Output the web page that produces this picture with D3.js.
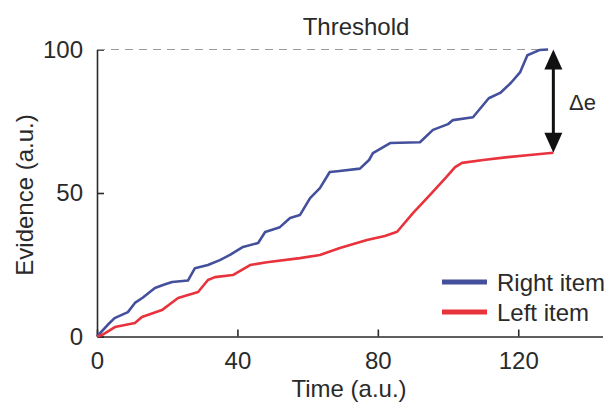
<!DOCTYPE html>
<html>
<head>
<meta charset="utf-8">
<script src="https://cdn.jsdelivr.net/npm/d3@7"></script>
<style>
  body { margin: 0; background: #fff; }
  text { font-family: "Liberation Sans", Arial, sans-serif; fill: #2a2a2a; }
</style>
</head>
<body>
<svg width="616" height="407"></svg>
<script>
// time (a.u.) / evidence (a.u.)
var rightTime = [0, 3, 5, 8.8, 10.8, 13, 16.5, 19, 21.4, 25.9, 27.9, 31.6, 35, 38, 41.6, 45.9, 47.9, 52.1, 55, 57.8,
                 60.7, 63.5, 66.3, 68.5, 74.9, 77.5, 78.6, 83.5, 92, 95.7, 100, 101.4, 107.1, 111.6, 115, 118, 120.5, 122.6, 126, 128.5];
var rightValue = [0, 4, 6.4, 8.5, 11.7, 13.5, 16.9, 18, 19, 19.5, 23.8, 24.9, 26.6, 28.5, 31.2, 32.6, 36.4, 38.1, 41.3, 42.3,
                  48.2, 51.7, 57.3, 57.6, 58.5, 61.5, 63.9, 67.4, 67.7, 72, 74, 75.4, 76.4, 83, 85, 88.5, 92, 98, 99.8, 100];
var leftTime = [0, 1.4, 5.1, 10.8, 12.8, 18.5, 21, 23.1, 28.8, 31.6, 33.6, 38.7, 43.6, 48.4, 57.8, 63.5, 69.2, 76.9,
                82, 85.5, 90, 95, 99.5, 102, 104, 110, 117, 124, 130];
var leftValue = [0, 0.5, 3.3, 4.7, 6.8, 9.2, 11.5, 13.4, 15.5, 19.7, 20.7, 21.4, 24.9, 25.9, 27.3, 28.4, 30.8, 33.6,
                 35, 36.5, 43, 49.5, 55.5, 59, 60.5, 61.5, 62.5, 63.3, 64];
var xTicks = [0, 40, 80, 120];
var yTicks = [0, 50, 100];
var threshold = 100;
var seriesNames = ["Right item", "Left item"];
var seriesColors = ["#44509c", "#e8323c"];

function main() {
  var svg = d3.select("svg");

  var x = d3.scaleLinear().domain([0, 144]).range([97, 602.5]);
  var y = d3.scaleLinear().domain([0, 100]).range([336.5, 49.5]);

  // axes, ticks point inward
  svg.append("g")
    .attr("transform", "translate(0," + y(0) + ")")
    .call(d3.axisBottom(x).tickValues(xTicks).tickSizeInner(-7).tickSizeOuter(0).tickPadding(15))
    .call(function(g) {
      g.selectAll("path, line").attr("stroke", "#2a2a2a").attr("stroke-width", 1.6);
      g.selectAll("text").attr("font-size", "24px").attr("fill", "#2a2a2a");
    });

  svg.append("g")
    .attr("transform", "translate(" + x(0) + ",0)")
    .call(d3.axisLeft(y).tickValues(yTicks).tickSizeInner(-7).tickSizeOuter(0).tickPadding(14))
    .call(function(g) {
      g.selectAll("path, line").attr("stroke", "#2a2a2a").attr("stroke-width", 1.6);
      g.selectAll("text").attr("font-size", "24px").attr("fill", "#2a2a2a");
    });

  // threshold line
  var rightEnd = rightTime[rightTime.length - 1];
  svg.append("line")
    .attr("x1", x(0)).attr("x2", x(rightEnd))
    .attr("y1", y(threshold)).attr("y2", y(threshold))
    .attr("stroke", "#9a9a9a")
    .attr("stroke-width", 1.2)
    .attr("stroke-dasharray", "8,6");

  svg.append("text")
    .attr("x", 356).attr("y", 35)
    .attr("text-anchor", "middle")
    .attr("font-size", "24px")
    .text("Threshold");

  // traces
  var line = d3.line().x(function(d) { return x(d[0]); }).y(function(d) { return y(d[1]); });
  var series = [d3.zip(rightTime, rightValue), d3.zip(leftTime, leftValue)];

  svg.selectAll(".trace")
    .data(series)
    .enter()
    .append("path")
    .attr("class", "trace")
    .attr("d", line)
    .attr("fill", "none")
    .attr("stroke", function(d, i) { return seriesColors[i]; })
    .attr("stroke-width", 2.6)
    .attr("stroke-linejoin", "round");

  // delta-e arrow
  var leftEnd = leftValue[leftValue.length - 1];
  var ax = x(130);
  var top = y(threshold), bot = y(leftEnd);
  var headL = 20, headW = 9;
  svg.append("line")
    .attr("x1", ax).attr("x2", ax)
    .attr("y1", top + headL - 2).attr("y2", bot - headL + 2)
    .attr("stroke", "#111").attr("stroke-width", 3);
  svg.append("path")
    .attr("d", "M" + ax + "," + top + "L" + (ax - headW) + "," + (top + headL) + "L" + (ax + headW) + "," + (top + headL) + "Z")
    .attr("fill", "#111");
  svg.append("path")
    .attr("d", "M" + ax + "," + bot + "L" + (ax - headW) + "," + (bot - headL) + "L" + (ax + headW) + "," + (bot - headL) + "Z")
    .attr("fill", "#111");

  svg.append("text")
    .attr("x", 569).attr("y", 110)
    .attr("font-size", "22px")
    .text("\u0394e");

  // legend
  var legend = svg.selectAll(".legend")
    .data(seriesNames)
    .enter()
    .append("g")
    .attr("class", "legend")
    .attr("transform", function(d, i) { return "translate(442," + (282 + i * 30) + ")"; });
  legend.append("line")
    .attr("x1", 0).attr("x2", 45)
    .attr("stroke", function(d, i) { return seriesColors[i]; })
    .attr("stroke-width", 5);
  legend.append("text")
    .attr("x", 55).attr("y", 9)
    .attr("font-size", "24px")
    .text(function(d) { return d; });

  // axis titles
  svg.append("text")
    .attr("x", 349).attr("y", 397)
    .attr("text-anchor", "middle")
    .attr("font-size", "24px")
    .text("Time (a.u.)");

  svg.append("text")
    .attr("transform", "translate(33,195) rotate(-90)")
    .attr("text-anchor", "middle")
    .attr("font-size", "24px")
    .text("Evidence (a.u.)");
}
main();
</script>
</body>
</html>
